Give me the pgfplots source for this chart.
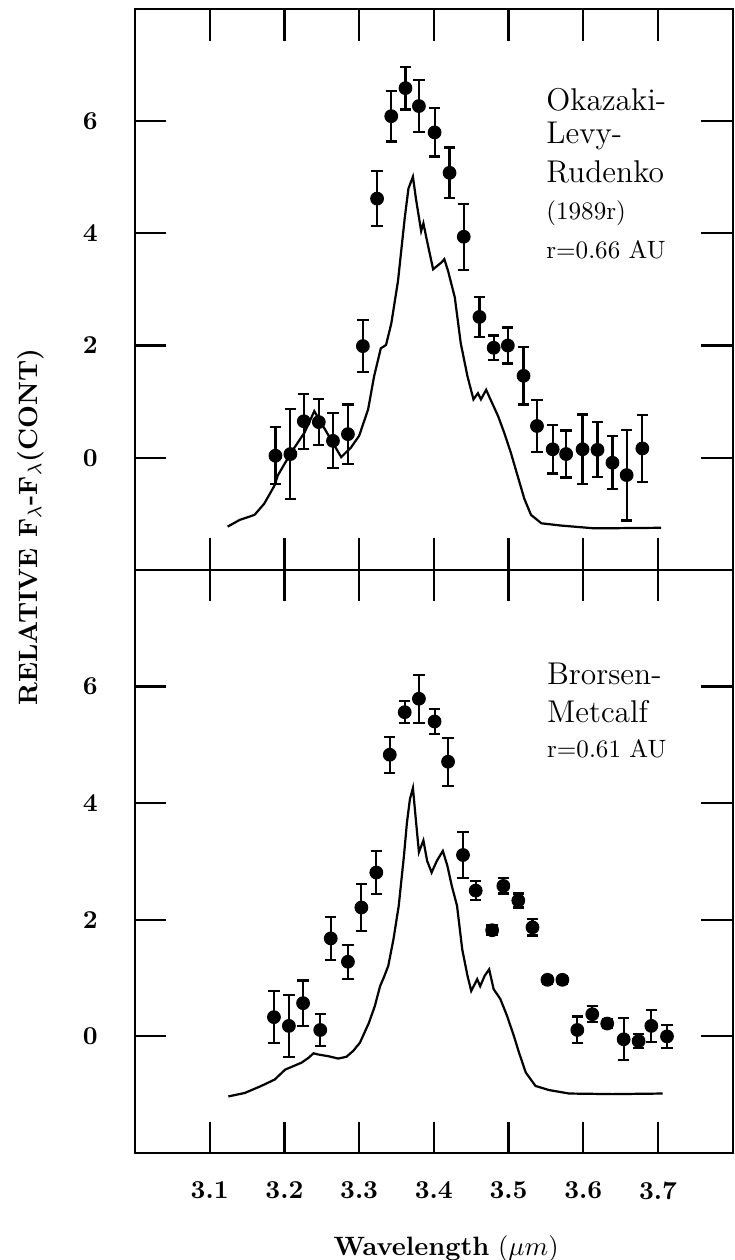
\documentclass[border=0pt]{standalone}
\usepackage{pgfplots}
\pgfplotsset{compat=1.18}
\usetikzlibrary{calc}

\pgfplotsset{
  panel/.style={
    scale only axis, width=8.55cm,
    xmin=3.0, xmax=3.8, ymin=-2, ymax=8,
    xtick={3.1,3.2,3.3,3.4,3.5,3.6,3.7},
    ytick={0,2,4,6},
    tick align=inside, tick pos=both,
    major tick length=0.45cm,
    yticklabel pos=left,
    axis line style={line width=0.9pt},
    tick style={black, line width=0.9pt},
    ticklabel style={font=\fontsize{10.5}{12}\selectfont\bfseries},
    /pgf/number format/assume math mode=true,
    yticklabel style={xshift=-0.41cm},
    xticklabel style={yshift=-0.29cm},
  },
  obs/.style={only marks, mark=*, mark size=2.6pt, black,
    error bars/.cd, y dir=both, y explicit,
    error bar style={line width=0.9pt},
    error mark options={rotate=90, mark size=2.3pt, line width=0.9pt}},
  model/.style={no marks, black, line width=0.9pt},
}
\tikzset{
  cometname/.style={anchor=base west, font=\fontsize{12.8}{15}\selectfont},
  cometnote/.style={anchor=base west, font=\fontsize{10.2}{12}\selectfont},
}

\begin{document}
\begin{tikzpicture}
\path[use as bounding box] (-1.93,-1.53) rectangle (8.58,16.49);

% lower panel: Brorsen-Metcalf
\begin{axis}[panel, name=bot, at={(0,0)}, anchor=south west, height=8.34cm,
  xticklabel pos=left, xticklabels={3.1,3.2,3.3,3.4,3.5,3.6,3.7}]
\addplot[model] coordinates {
(3.125,-1.03) (3.147,-0.97) (3.169,-0.85) (3.187,-0.74) (3.201,-0.57)
(3.212,-0.51) (3.223,-0.45) (3.232,-0.37) (3.239,-0.29) (3.245,-0.31)
(3.259,-0.34) (3.272,-0.38) (3.283,-0.35) (3.292,-0.25) (3.301,-0.11)
(3.313,0.23) (3.321,0.52) (3.328,0.86) (3.333,1.01) (3.339,1.21)
(3.346,1.67) (3.353,2.24) (3.360,3.10) (3.364,3.67) (3.368,4.07)
(3.372,4.26) (3.375,3.84) (3.380,3.16) (3.386,3.36) (3.391,3.01)
(3.397,2.81) (3.404,3.01) (3.412,3.18) (3.418,2.93) (3.424,2.58)
(3.431,2.24) (3.438,1.49) (3.445,1.04) (3.450,0.78) (3.458,0.98)
(3.462,0.86) (3.468,1.04) (3.474,1.15) (3.480,0.81) (3.489,0.64)
(3.498,0.35) (3.507,0.01) (3.514,-0.28) (3.523,-0.62) (3.536,-0.85)
(3.554,-0.92) (3.581,-0.98) (3.639,-0.99) (3.706,-0.98)};
\addplot[obs] coordinates {
(3.186,0.33) +- (0,0.45)
(3.206,0.18) +- (0,0.53)
(3.225,0.57) +- (0,0.39)
(3.248,0.11) +- (0,0.27)
(3.262,1.68) +- (0,0.37)
(3.285,1.28) +- (0,0.29)
(3.303,2.21) +- (0,0.40)
(3.323,2.81) +- (0,0.37)
(3.341,4.83) +- (0,0.31)
(3.361,5.56) +- (0,0.19)
(3.380,5.79) +- (0,0.41)
(3.401,5.40) +- (0,0.21)
(3.419,4.71) +- (0,0.41)
(3.439,3.11) +- (0,0.39)
(3.456,2.50) +- (0,0.16)
(3.478,1.82) +- (0,0.08)
(3.493,2.58) +- (0,0.13)
(3.513,2.33) +- (0,0.12)
(3.532,1.87) +- (0,0.14)
(3.552,0.97) +- (0,0.07)
(3.572,0.97) +- (0,0.07)
(3.592,0.11) +- (0,0.23)
(3.612,0.38) +- (0,0.14)
(3.632,0.22) +- (0,0.08)
(3.654,-0.05) +- (0,0.36)
(3.674,-0.08) +- (0,0.12)
(3.691,0.18) +- (0,0.27)
(3.712,0.00) +- (0,0.20)};
\node[cometname] at (axis cs:3.540,6.03) {Brorsen-};
\node[cometname] at (axis cs:3.540,5.39) {Metcalf};
\node[cometnote] at (axis cs:3.540,4.79) {r=0.61 AU};
\end{axis}

% upper panel: Okazaki-Levy-Rudenko
\begin{axis}[panel, name=top, at={(0,8.34cm)}, anchor=south west, height=8.02cm,
  xticklabels={}]
\addplot[model] coordinates {
(3.124,-1.23) (3.140,-1.11) (3.160,-1.02) (3.173,-0.82) (3.187,-0.49)
(3.191,-0.32) (3.209,0.09) (3.227,0.45) (3.240,0.83) (3.262,0.33)
(3.276,0.01) (3.289,0.18) (3.300,0.39) (3.312,0.86) (3.320,1.45)
(3.329,1.95) (3.336,2.01) (3.343,2.39) (3.352,3.15) (3.361,4.27)
(3.366,4.80) (3.372,5.01) (3.376,4.62) (3.383,4.04) (3.386,4.18)
(3.390,3.92) (3.399,3.36) (3.410,3.48) (3.414,3.54) (3.419,3.33)
(3.428,2.86) (3.436,2.04) (3.445,1.45) (3.453,1.04) (3.459,1.15)
(3.463,1.04) (3.470,1.21) (3.474,1.09) (3.486,0.74) (3.494,0.45)
(3.503,0.09) (3.512,-0.32) (3.521,-0.73) (3.530,-1.02) (3.544,-1.17)
(3.570,-1.21) (3.615,-1.26) (3.704,-1.25)};
\addplot[obs] coordinates {
(3.188,0.035) +- (0,0.51)
(3.208,0.065) +- (0,0.80)
(3.226,0.65) +- (0,0.49)
(3.246,0.635) +- (0,0.41)
(3.265,0.30) +- (0,0.49)
(3.285,0.42) +- (0,0.53)
(3.305,1.99) +- (0,0.46)
(3.324,4.62) +- (0,0.49)
(3.343,6.09) +- (0,0.45)
(3.362,6.59) +- (0,0.38)
(3.380,6.27) +- (0,0.46)
(3.401,5.80) +- (0,0.43)
(3.421,5.08) +- (0,0.45)
(3.440,3.94) +- (0,0.59)
(3.461,2.51) +- (0,0.36)
(3.480,1.96) +- (0,0.22)
(3.499,2.00) +- (0,0.32)
(3.520,1.46) +- (0,0.51)
(3.538,0.565) +- (0,0.46)
(3.559,0.15) +- (0,0.43)
(3.577,0.065) +- (0,0.42)
(3.599,0.15) +- (0,0.62)
(3.619,0.14) +- (0,0.49)
(3.639,-0.09) +- (0,0.47)
(3.658,-0.31) +- (0,0.81)
(3.679,0.165) +- (0,0.60)};
\node[cometname] at (axis cs:3.539,6.20) {Okazaki-};
\node[cometname] at (axis cs:3.539,5.61) {Levy-};
\node[cometname] at (axis cs:3.539,4.90) {Rudenko};
\node[cometnote] at (axis cs:3.539,4.24) {(1989r)};
\node[cometnote] at (axis cs:3.539,3.56) {r=0.66 AU};
\end{axis}

\node[rotate=90, anchor=base, font=\fontsize{10.8}{13}\selectfont]
  at ($(bot.north west)+(-1.40cm,0.61cm)$)
  {\textbf{RELATIVE F$_\lambda$-F$_\lambda$(CONT)}};
\node[anchor=base, font=\fontsize{10.8}{13}\selectfont]
  at ($(bot.south west)+(4.45cm,-1.47cm)$)
  {\textbf{Wavelength} ($\mu m$)};
\end{tikzpicture}
\end{document}
